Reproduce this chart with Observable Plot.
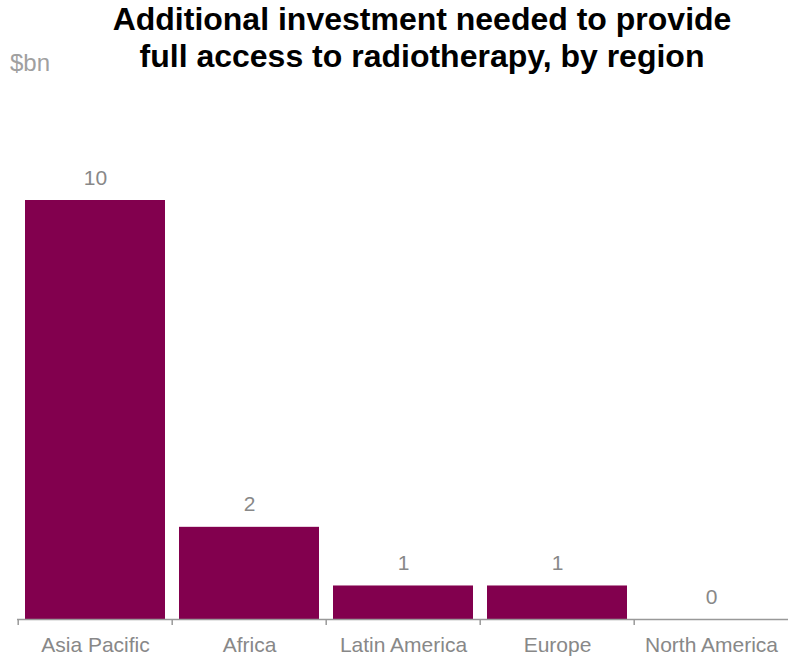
<!DOCTYPE html>
<html>
<head>
<meta charset="utf-8">
<script src="https://cdn.jsdelivr.net/npm/d3@7"></script>
<script src="https://cdn.jsdelivr.net/npm/@observablehq/plot@0.6"></script>
<style>
  html, body { margin: 0; padding: 0; background: #fff; }
  #wrap { position: relative; width: 788px; height: 657px; overflow: hidden; font-family: Arial, "Liberation Sans", sans-serif; }
  #title { position: absolute; left: 56px; width: 732px; top: 1px; text-align: center; font-weight: bold; font-size: 32px; line-height: 37px; color: #000; }
  #unit { position: absolute; left: 10px; top: 49px; font-size: 24px; color: #a0a0a0; }
  #chart { position: absolute; left: 0; top: 0; }
</style>
</head>
<body>
<div id="wrap">
  <div id="chart"></div>
  <div id="title">Additional investment needed to provide<br>full access to radiotherapy, by region</div>
  <div id="unit">$bn</div>
</div>
<script>
const regions = ["Asia Pacific", "Africa", "Latin America", "Europe", "North America"];
const investment = [10, 2.2, 0.8, 0.8, 0];

const data = regions.map((r, i) => ({region: r, value: investment[i]}));

const W = 788, H = 657;
const mL = 17, mR = -2, mT = 200, mB = 38;
const step = (W - mL - mR) / regions.length;
const barColor = "#82004e";
const grey = "#999";

const chart = Plot.plot({
  width: W,
  height: H,
  marginLeft: mL,
  marginRight: mR,
  marginTop: mT,
  marginBottom: mB,
  style: {fontFamily: "Arial, 'Liberation Sans', sans-serif", background: "transparent", overflow: "visible"},
  x: {domain: regions, paddingInner: 0.088, paddingOuter: 0.044, label: null},
  y: {domain: [0, d3.max(investment)], axis: null, label: null},
  marks: [
    Plot.barY(data, {x: "region", y: "value", fill: barColor}),
    Plot.ruleY([0], {stroke: grey, strokeWidth: 1.5}),
    Plot.axisX({tickSize: 6, dx: -step / 2, tickFormat: () => "", stroke: grey, strokeWidth: 1.5}),
    Plot.axisX({tickSize: 0, tickPadding: 18, fontSize: 21, fill: "#888", label: null}),
    Plot.text(data, {x: "region", y: "value", text: d => d3.format(".0f")(d.value), dy: -16, lineAnchor: "bottom", fontSize: 21, fill: "#888"})
  ]
});
document.getElementById("chart").appendChild(chart);
</script>
</body>
</html>
